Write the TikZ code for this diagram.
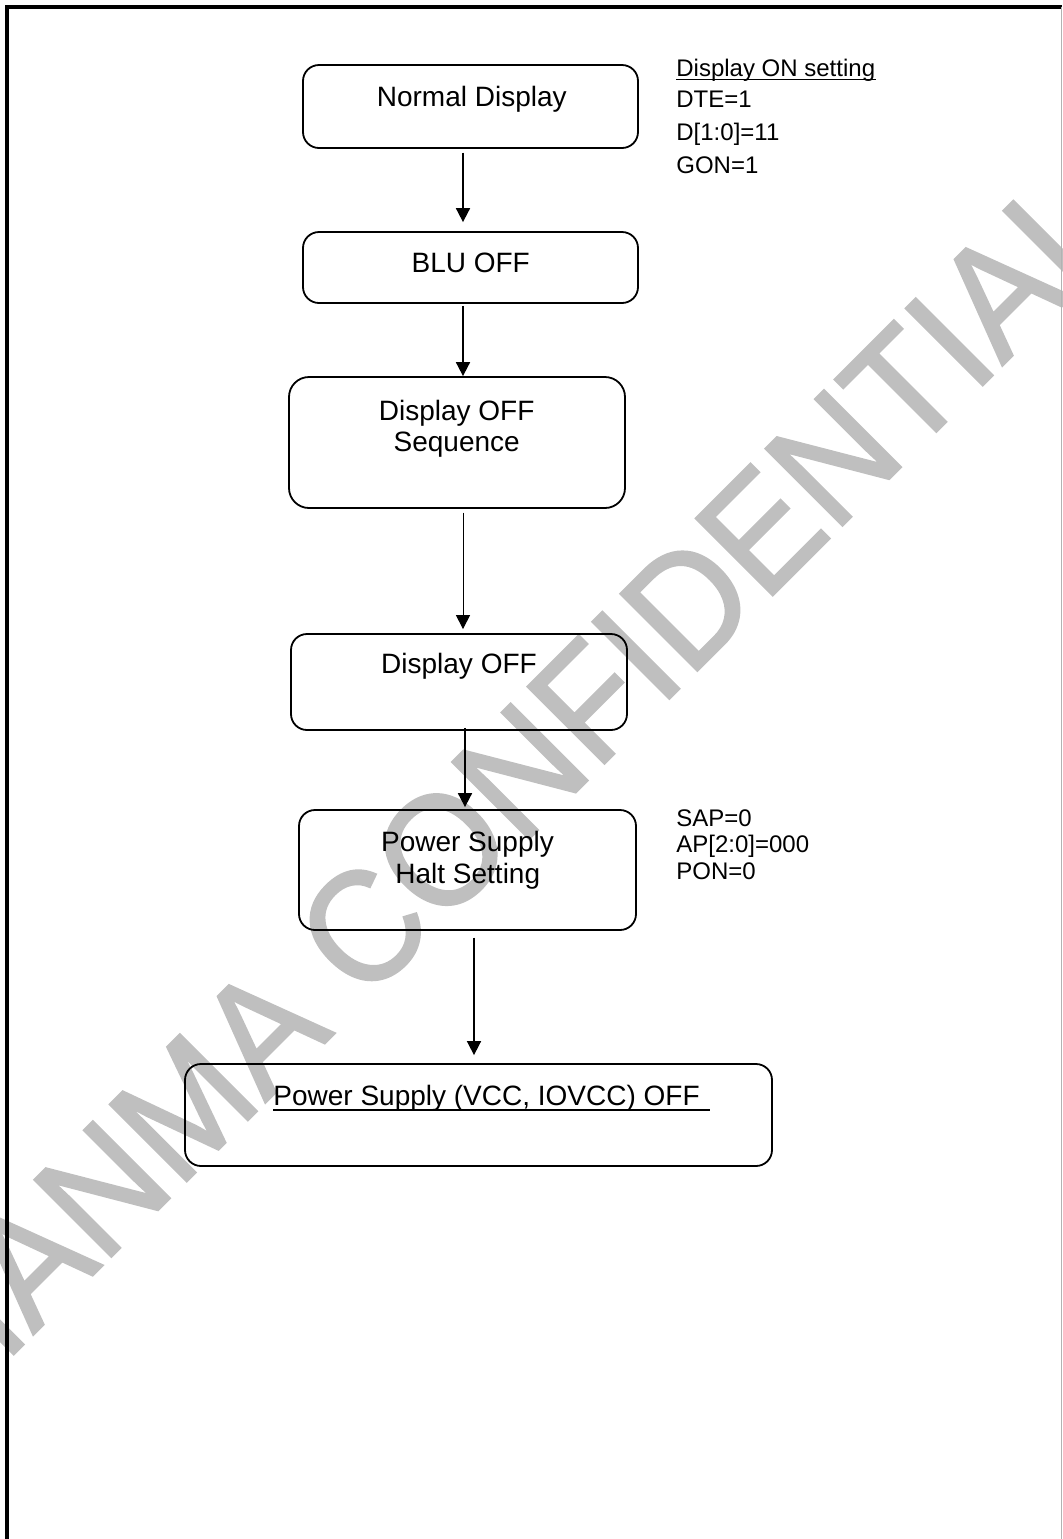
\documentclass[tikz,border=0pt]{standalone}
\usepackage{fontspec}
\setmainfont{Liberation Sans}
\newfontfamily\markfont{Liberation Sans}[FakeStretch=0.935, FakeBold=1.5]
\usepackage{tikz}
\usetikzlibrary{arrows.meta,calc}
\newcommand{\clrframe}{black}
\newcommand{\clrmark}{black!25}
\newcommand{\clredge}{black!30}

\begin{document}
\begin{tikzpicture}[x=0.5pt, y=-0.5pt,
    box/.style={draw, line width=0.9pt, rounded corners=8pt, inner sep=0pt},
    big/.style={font=\fontsize{14}{16}\selectfont, inner sep=0pt, anchor=base},
    small/.style={font=\fontsize{12}{14}\selectfont, inner sep=0pt, anchor=base west},
    flow/.style={-{Triangle[length=7pt, width=7pt]}, line width=0.9pt}]
    \useasboundingbox (0,0) rectangle (1062,1539);

    \node[rotate=45, anchor=base west, inner sep=0pt, text=\clrmark, font=\markfont\fontsize{79}{86}\selectfont] (mark) at (-60,1428) {TIANMA CONFIDENTIAL};

    \draw[\clrframe, line width=2pt] (7,1539) -- (7,6.5) -- (1062,6.5);
    \draw[\clredge, line width=0.5pt] (1061,6.5) -- (1061,1539);

    \node[box, minimum width=167.5pt, minimum height=41.5pt] (normal) at (470.5,106.5) {};
    \node[box, minimum width=167.5pt, minimum height=35.5pt] (blu) at (470.5,267.5) {};
    \node[box, minimum width=168pt, minimum height=65.5pt, rounded corners=10pt] (seq) at (457,442.5) {};
    \node[box, minimum width=168pt, minimum height=48pt] (doff) at (459,682) {};
    \node[box, minimum width=168.5pt, minimum height=60pt] (halt) at (467.5,870) {};
    \node[box, minimum width=293.5pt, minimum height=51pt] (power) at (478.5,1115) {};

    \node[big] (normaltxt) at (471.8,106) {Normal Display};
    \node[big] (blutxt) at (470.7,272) {BLU OFF};
    \node[big] (seqtxt) at (456.7,420) {Display OFF};
    \node[big] (seqtxtb) at (456.7,451.7) {Sequence};
    \node[big] (dofftxt) at (459,673) {Display OFF};
    \node[big] (halttxt) at (467.5,851.7) {Power Supply};
    \node[big] (halttxtb) at (467.8,883.3) {Halt Setting};
    \node[big, anchor=base west] (powertxt) at (273,1105.5) {Power Supply (VCC, IOVCC) OFF};
    \draw[line width=1pt] ([yshift=-2.2pt]powertxt.base west) -- ([yshift=-2.2pt, xshift=4.7pt]powertxt.base east);

    \node[small] (onhead) at (676,76.5) {Display ON setting};
    \draw[line width=0.7pt] ([yshift=-1.6pt]onhead.base west) -- ([yshift=-1.6pt]onhead.base east);
    \node[small] (dte) at (676,107.5) {DTE=1};
    \node[small] (dbits) at (676,140) {D[1:0]=11};
    \node[small] (gon) at (676,173.5) {GON=1};

    \node[small] (sap) at (676,826) {SAP=0};
    \node[small] (apbits) at (676,852) {AP[2:0]=000};
    \node[small] (pon) at (676,879) {PON=0};

    \draw[flow, shorten <=1.8pt, shorten >=4.5pt] (normal.south -| 463,0) -- (blu.north -| 463,0);
    \draw[flow, shorten <=1pt] (blu.south -| 463,0) -- (seq.north -| 463,0);
    \draw[flow, line width=0.5pt, shorten <=1.8pt, shorten >=2pt] (seq.south -| 463,0) -- (doff.north -| 463,0);
    \draw[flow, shorten <=-1.5pt, shorten >=1pt] (doff.south -| 465,0) -- (halt.north -| 465,0);
    \draw[flow, line width=0.8pt, shorten <=3.3pt, shorten >=4pt] (halt.south -| 474,0) -- (power.north -| 474,0);
\end{tikzpicture}
\end{document}
